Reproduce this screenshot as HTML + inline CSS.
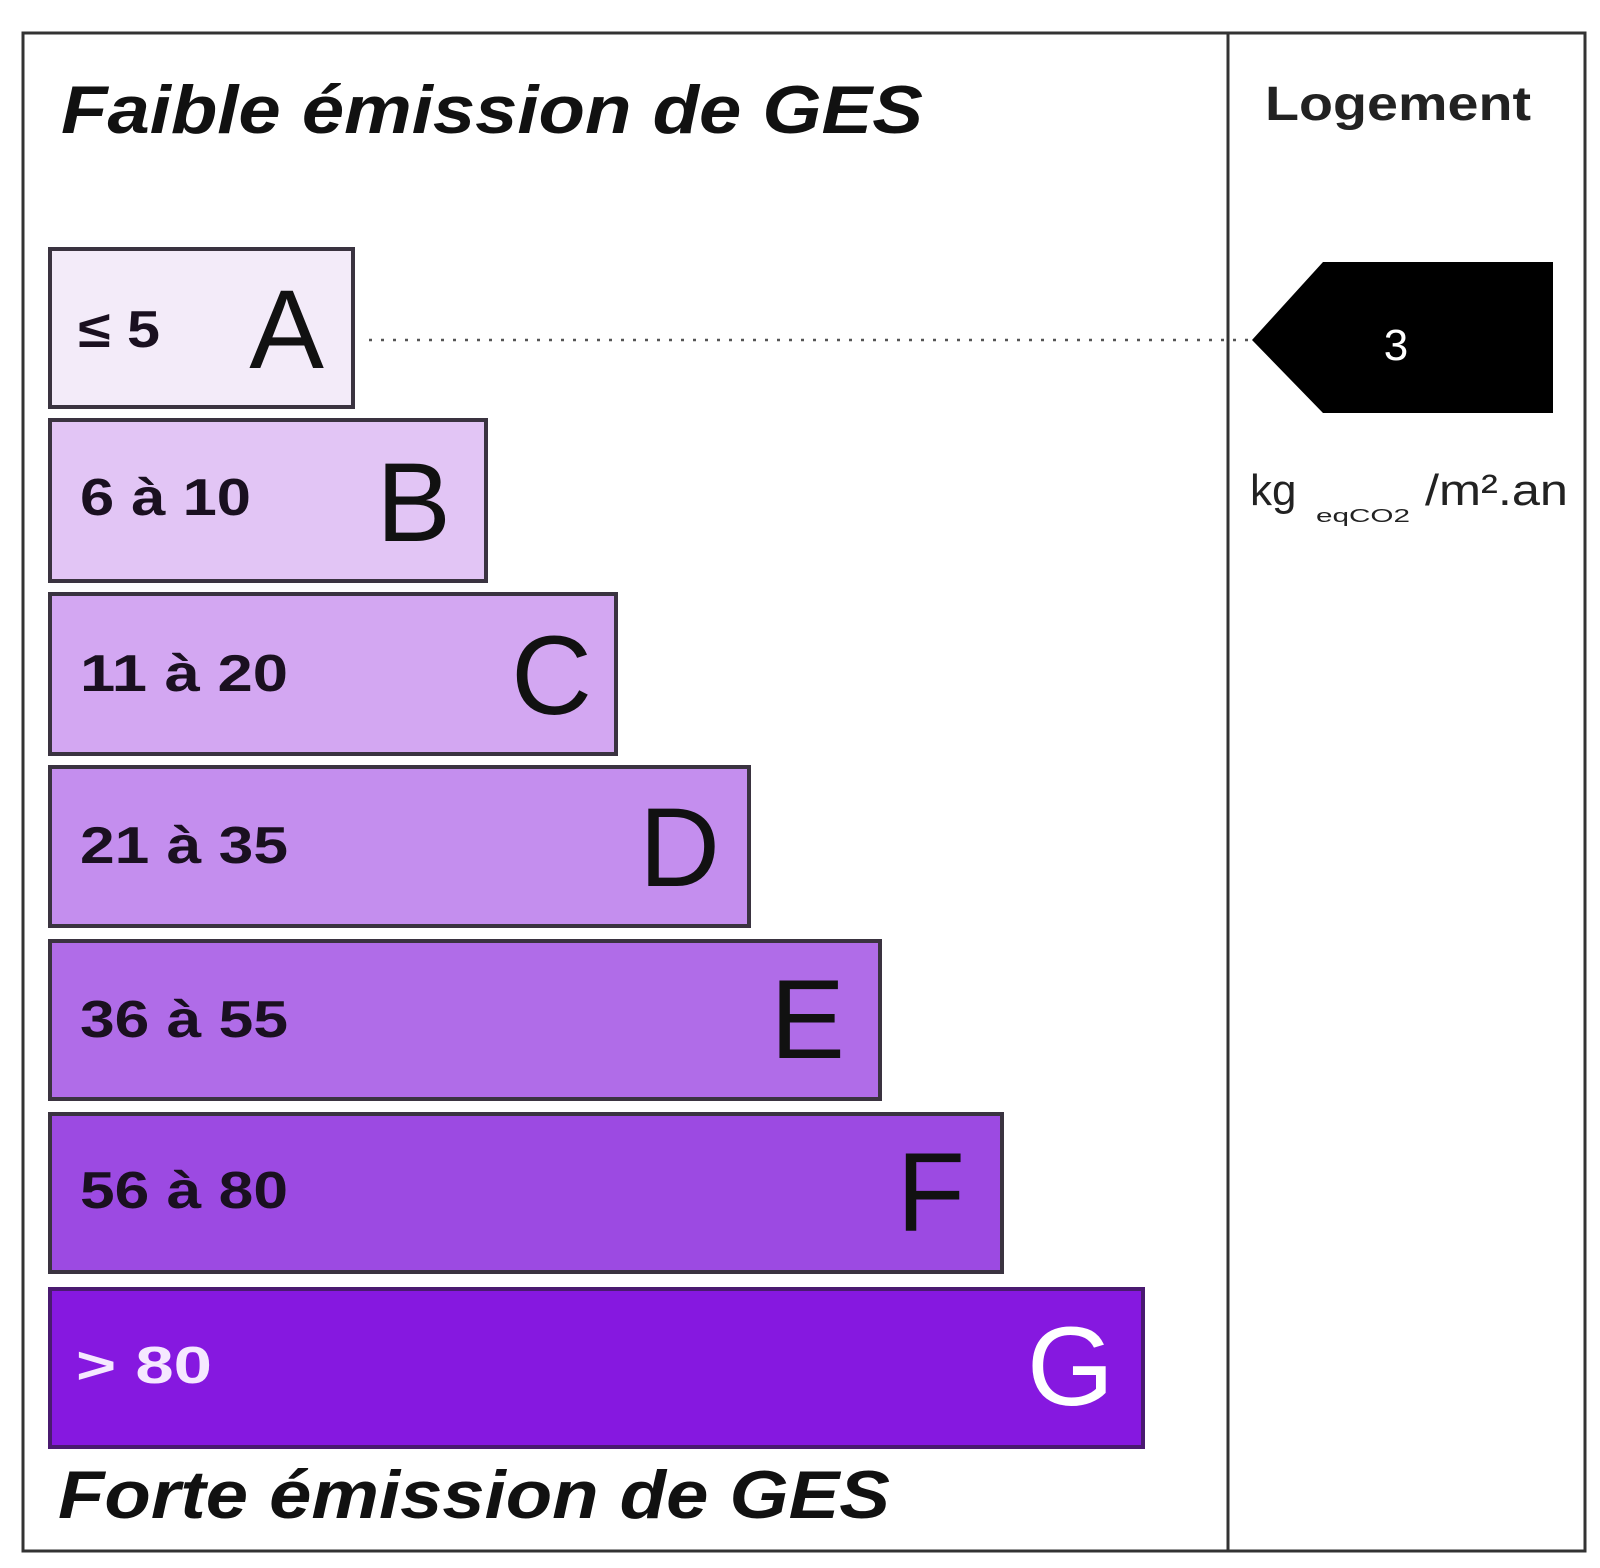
<!DOCTYPE html>
<html><head><meta charset="utf-8"><style>
html,body{margin:0;padding:0;background:#fff;}
svg{display:block;}
text{font-family:"Liberation Sans",sans-serif;}
</style></head><body>
<svg width="1600" height="1568" viewBox="0 0 1600 1568" xmlns="http://www.w3.org/2000/svg">
<rect x="0" y="0" width="1600" height="1568" fill="#fff"/>
<rect x="23" y="33" width="1562" height="1518" fill="none" stroke="#333" stroke-width="3"/>
<line x1="1228" y1="33" x2="1228" y2="1551" stroke="#333" stroke-width="3"/>
<text x="61" y="133" font-size="68" font-weight="bold" font-style="italic" textLength="862" lengthAdjust="spacingAndGlyphs" fill="#111">Faible émission de GES</text>
<text x="58" y="1518" font-size="68" font-weight="bold" font-style="italic" textLength="832" lengthAdjust="spacingAndGlyphs" fill="#111">Forte émission de GES</text>
<text x="1265" y="120" font-size="48" font-weight="bold" textLength="266" lengthAdjust="spacingAndGlyphs" fill="#222">Logement</text>

<g stroke="#3a3340" stroke-width="4">
<rect x="50" y="249" width="303" height="158" fill="#f3ebf9"/>
<rect x="50" y="420" width="436" height="161" fill="#e2c5f5"/>
<rect x="50" y="594" width="566" height="160" fill="#d3a7f2"/>
<rect x="50" y="767" width="699" height="159" fill="#c48eee"/>
<rect x="50" y="941" width="830" height="158" fill="#b06ce8"/>
<rect x="50" y="1114" width="952" height="158" fill="#9c4ae2"/>
<rect x="50" y="1289" width="1093" height="158" fill="#8618e0" stroke="#4a1a70"/>
</g>
<g font-weight="bold" font-size="52" fill="#1a1020" lengthAdjust="spacingAndGlyphs">
<text x="78" y="347" textLength="82" lengthAdjust="spacingAndGlyphs">≤ 5</text>
<text x="80" y="515" textLength="171" lengthAdjust="spacingAndGlyphs">6 à 10</text>
<text x="80" y="691" textLength="208" lengthAdjust="spacingAndGlyphs">11 à 20</text>
<text x="80" y="863" textLength="208" lengthAdjust="spacingAndGlyphs">21 à 35</text>
<text x="80" y="1037" textLength="208" lengthAdjust="spacingAndGlyphs">36 à 55</text>
<text x="80" y="1208" textLength="208" lengthAdjust="spacingAndGlyphs">56 à 80</text>
<text x="76" y="1383" fill="#f5e8ff" textLength="136" lengthAdjust="spacingAndGlyphs">&gt;  80</text>
</g>
<g font-size="112" fill="#111" text-anchor="end">
<text x="324" y="368">A</text>
<text x="451" y="541">B</text>
<text x="592" y="714">C</text>
<text x="720" y="886">D</text>
<text x="845" y="1058">E</text>
<text x="965" y="1231">F</text>
<text x="1114" y="1405" fill="#fff">G</text>
</g>
<line x1="369" y1="340" x2="1252" y2="340" stroke="#555" stroke-width="2.5" stroke-dasharray="3,9"/>
<polygon points="1252,340 1323,262 1553,262 1553,413 1323,413" fill="#000"/>
<text x="1396" y="360" font-size="44" fill="#fff" text-anchor="middle">3</text>
<text x="1250" y="505" font-size="44" fill="#222">kg</text>
<text x="1316" y="522" font-size="18" fill="#222" textLength="94" lengthAdjust="spacingAndGlyphs">eqCO2</text>
<text x="1425" y="505" font-size="44" fill="#222" textLength="143" lengthAdjust="spacingAndGlyphs">/m².an</text>
</svg>
</body></html>
